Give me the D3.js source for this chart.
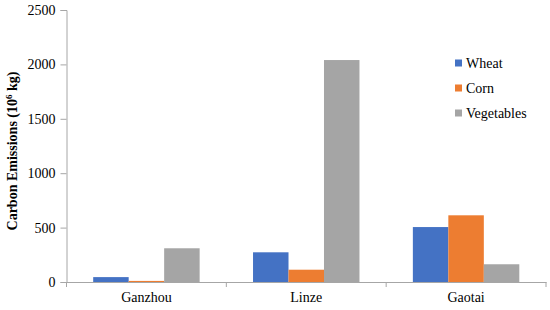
<!DOCTYPE html>
<html><head><meta charset="utf-8">
<script src="https://cdn.jsdelivr.net/npm/d3@7"></script>
<style>body{margin:0;background:#fff}svg{display:block}
svg text{font-family:"Liberation Serif","DejaVu Serif",serif;}</style>
</head><body><svg id="c" width="550" height="310"></svg>
<script>
const categories = ["Ganzhou", "Linze", "Gaotai"];
const seriesNames = ["Wheat", "Corn", "Vegetables"];
const wheat = [45, 273, 505];
const corn = [10, 113, 613];
const vegetables = [310, 2040, 163];
const yTicks = [0, 500, 1000, 1500, 2000, 2500];
const colors = ["#4472c4", "#ed7d31", "#a5a5a5"];

const values = [wheat, corn, vegetables];
const svg = d3.select("#c");
const m = {l: 66.5, r: 546, t: 10, b: 282};

const x0 = d3.scaleBand().domain(categories).range([m.l, m.r]).paddingInner(0.334).paddingOuter(0.167);
const x1 = d3.scaleBand().domain(seriesNames).range([0, x0.bandwidth()]).padding(0);
const y = d3.scaleLinear().domain([0, 2500]).range([m.b, m.t]);

const g = svg.append("g");
categories.forEach((c, ci) => {
  seriesNames.forEach((s, si) => {
    g.append("rect")
      .attr("x", x0(c) + x1(s))
      .attr("y", y(values[si][ci]))
      .attr("width", x1.bandwidth())
      .attr("height", y(0) - y(values[si][ci]))
      .attr("fill", colors[si]);
  });
});

const ya = svg.append("g").attr("transform", `translate(${m.l},0)`)
  .call(d3.axisLeft(y).tickValues(yTicks).tickSize(6).tickPadding(5).tickFormat(d3.format("d")));
ya.attr("font-family", null).attr("font-size", null);
ya.select(".domain").attr("stroke", "#a6a6a6");
ya.selectAll(".tick line").attr("stroke", "#a6a6a6");
ya.selectAll("text").style("font-size", "14px").attr("fill", "#000");

const xa = svg.append("g").attr("transform", `translate(0,${m.b})`)
  .call(d3.axisBottom(x0).tickSize(0).tickPadding(10));
xa.attr("font-family", null).attr("font-size", null);
xa.select(".domain").attr("stroke", "#a6a6a6");
xa.selectAll("text").style("font-size", "14px").attr("fill", "#000");
const bounds = [m.l].concat(categories.map(c => x0(c) + x0.bandwidth() + x0.step() * 0.167));
svg.append("g").selectAll("line").data(bounds).join("line")
  .attr("x1", d => d).attr("x2", d => d)
  .attr("y1", m.b).attr("y2", m.b + 5)
  .attr("stroke", "#a6a6a6");

const t = svg.append("text")
  .attr("transform", `translate(17,${(m.t + m.b) / 2 + 5}) rotate(-90)`)
  .attr("text-anchor", "middle")
  .style("font-size", "14px").attr("font-weight", "bold");
t.append("tspan").text("Carbon Emissions (10");
t.append("tspan").text("6").style("font-size", "9px").attr("dy", -5);
t.append("tspan").text(" kg)").attr("dy", 5);

const lg = svg.append("g");
seriesNames.forEach((s, i) => {
  const yy = 63 + i * 25;
  lg.append("rect").attr("x", 455).attr("y", yy - 3.5).attr("width", 7).attr("height", 7).attr("fill", colors[i]);
  lg.append("text").attr("x", 466).attr("y", yy + 5)
    .style("font-size", "14px").text(s);
});
</script></body></html>
